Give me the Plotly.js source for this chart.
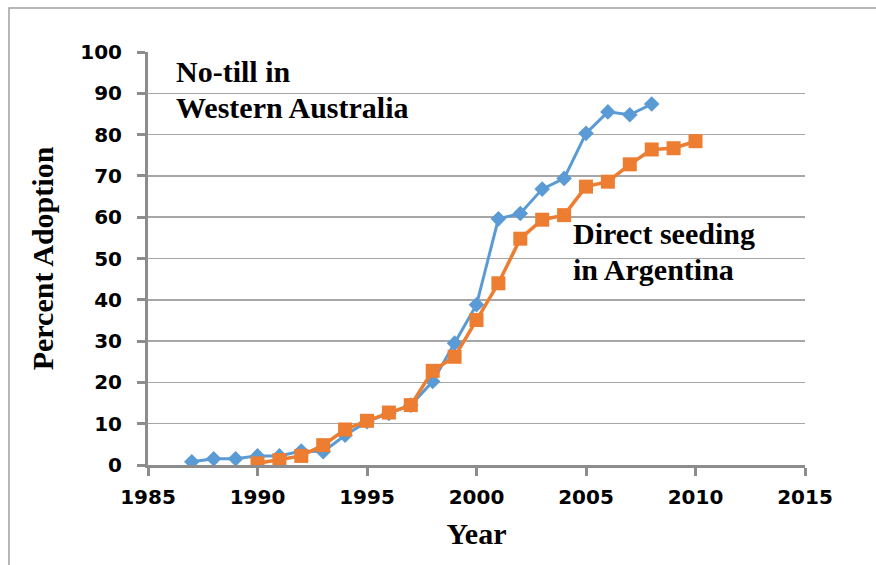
<!DOCTYPE html>
<html>
<head>
<meta charset="utf-8">
<script src="https://cdn.plot.ly/plotly-3.0.1.min.js"></script>
<style>html,body{margin:0;padding:0;background:#fff;}#chart{width:876px;height:565px;}</style>
</head>
<body>
<div id="chart"></div>
<script>
const waYears = [1987,1988,1989,1990,1991,1992,1993,1994,1995,1996,1997,1998,1999,2000,2001,2002,2003,2004,2005,2006,2007,2008];
const waValues = [0.8,1.5,1.5,2.2,2.2,3.4,3.2,7.2,10.5,12.5,14.5,20.2,29.5,38.8,59.6,60.9,66.8,69.4,80.3,85.5,84.8,87.4];
const arYears = [1990,1991,1992,1993,1994,1995,1996,1997,1998,1999,2000,2001,2002,2003,2004,2005,2006,2007,2008,2009,2010];
const arValues = [0.4,1.2,2.2,4.8,8.6,10.7,12.7,14.5,22.8,26.2,35.1,44.0,54.8,59.4,60.5,67.4,68.6,72.8,76.4,76.7,78.4];
const xTicks = [1985,1990,1995,2000,2005,2010,2015];
const yTicks = [0,10,20,30,40,50,60,70,80,90,100];
const labelWA = ["No-till in","Western Australia"];
const labelAR = ["Direct seeding","in Argentina"];

const serif = "'Liberation Serif', 'Times New Roman', serif";
const sans = "'DejaVu Sans', sans-serif";

const traces = [
  {x: waYears, y: waValues, type: 'scatter', mode: 'lines+markers', name: 'Western Australia',
   line: {color: '#5B9BD5', width: 3}, marker: {symbol: 'diamond', size: 12, color: '#5B9BD5'}},
  {x: arYears, y: arValues, type: 'scatter', mode: 'lines+markers', name: 'Argentina',
   line: {color: '#ED7D31', width: 3.5}, marker: {symbol: 'square', size: 14, color: '#ED7D31'}}
];

const annFont = {family: serif, size: 30, color: '#000', weight: 'bold'};
const layout = {
  width: 876, height: 565,
  margin: {l: 148, r: 71, t: 52, b: 100},
  paper_bgcolor: '#fff', plot_bgcolor: '#fff',
  showlegend: false,
  xaxis: {
    range: [1985, 2015], tickvals: xTicks, ticktext: xTicks.map(String),
    showgrid: false, zeroline: false,
    showline: true, linecolor: '#8c8c8c', linewidth: 3,
    ticks: 'outside', ticklen: 8, tickwidth: 3, tickcolor: '#8c8c8c',
    ticklabelstandoff: 4,
    tickfont: {family: sans, size: 20, color: '#000', weight: 'bold'},
    title: {text: 'Year', font: {family: serif, size: 30, color: '#000', weight: 'bold'}, standoff: 15}
  },
  yaxis: {
    range: [0, 100], tickvals: yTicks, ticktext: yTicks.map(String),
    showgrid: true, gridcolor: '#a6a6a6', gridwidth: 1.5, zeroline: false,
    showline: true, linecolor: '#8c8c8c', linewidth: 3,
    ticks: 'outside', ticklen: 8, tickwidth: 3, tickcolor: '#8c8c8c',
    ticklabelstandoff: 11,
    tickfont: {family: sans, size: 20, color: '#000', weight: 'bold'},
    title: {text: 'Percent Adoption', font: {family: serif, size: 30, color: '#000', weight: 'bold'}, standoff: 18}
  },
  shapes: [
    {type: 'rect', xref: 'paper', yref: 'paper', x0: -0.2116, x1: 1.3, y0: -0.4, y1: 1.1065,
     line: {color: '#a0a0a0', width: 1.5}, fillcolor: 'rgba(0,0,0,0)', layer: 'below'}
  ],
  annotations: [
    {x: 1986.2, y: 95.4, text: labelWA[0], xanchor: 'left', yanchor: 'middle', showarrow: false, font: annFont},
    {x: 1986.2, y: 86.6, text: labelWA[1], xanchor: 'left', yanchor: 'middle', showarrow: false, font: annFont},
    {x: 2004.3, y: 56.0, text: labelAR[0], xanchor: 'left', yanchor: 'middle', showarrow: false, font: annFont},
    {x: 2004.3, y: 47.3, text: labelAR[1], xanchor: 'left', yanchor: 'middle', showarrow: false, font: annFont}
  ]
};

Plotly.newPlot('chart', traces, layout, {displayModeBar: false, staticPlot: true});
</script>
</body>
</html>
